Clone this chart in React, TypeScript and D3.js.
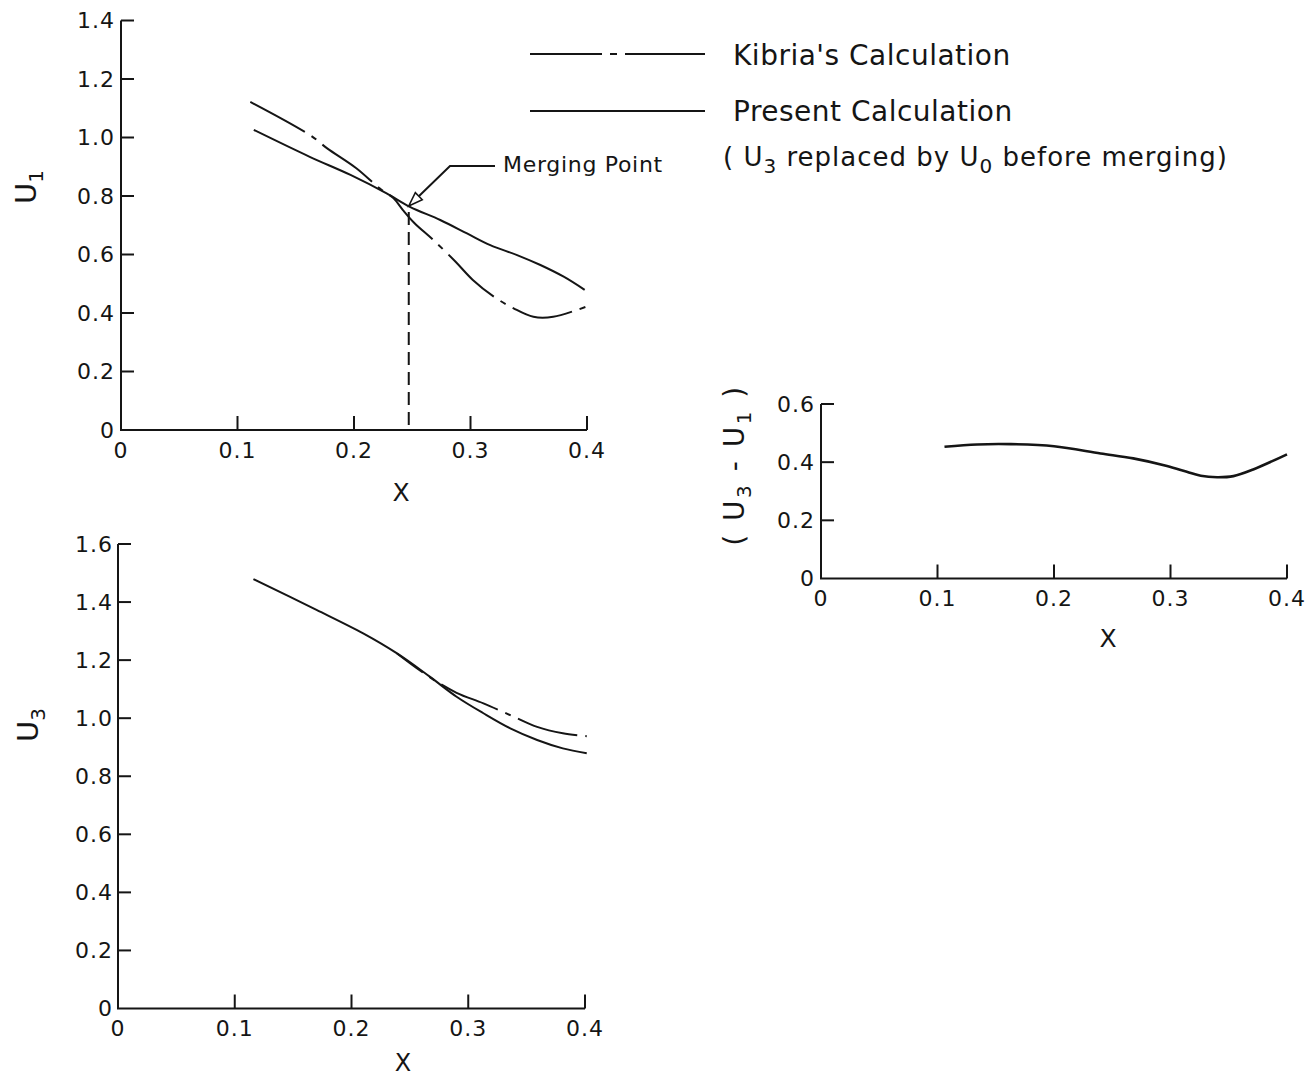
import React from 'react';
import * as d3 from 'd3';

const W = 1311;
const H = 1079;
const INK = '#151515';
const FONT = "'DejaVu Sans', 'Liberation Sans', sans-serif";

// ---- data -------------------------------------------------------------
// U1 against X
const u1KibriaX = [0.111, 0.162, 0.177, 0.202, 0.222, 0.234, 0.242, 0.252, 0.268, 0.287, 0.302, 0.320, 0.337, 0.354, 0.371, 0.401];
const u1KibriaY = [1.122, 1.009, 0.963, 0.895, 0.826, 0.792, 0.752, 0.707, 0.650, 0.576, 0.513, 0.456, 0.416, 0.387, 0.387, 0.424];
const u1PresentX = [0.114, 0.162, 0.197, 0.228, 0.248, 0.274, 0.297, 0.317, 0.340, 0.360, 0.380, 0.398];
const u1PresentY = [1.026, 0.934, 0.872, 0.809, 0.763, 0.718, 0.672, 0.632, 0.598, 0.564, 0.524, 0.479];

// merging point on the U1 curves
const mergeX = 0.247;
const mergeY = 0.766;

// U3 against X
const u3PresentX = [0.116, 0.170, 0.210, 0.239, 0.267, 0.290, 0.313, 0.336, 0.359, 0.381, 0.4015];
const u3PresentY = [1.479, 1.373, 1.292, 1.223, 1.143, 1.074, 1.017, 0.965, 0.925, 0.896, 0.879];
const u3KibriaX = [0.239, 0.267, 0.290, 0.313, 0.339, 0.359, 0.381, 0.4015];
const u3KibriaY = [1.223, 1.141, 1.0875, 1.051, 1.005, 0.970, 0.948, 0.938];

// (U3 - U1) against X
const diffX = [0.106, 0.134, 0.163, 0.200, 0.240, 0.268, 0.297, 0.314, 0.326, 0.340, 0.354, 0.371, 0.400];
const diffY = [0.453, 0.461, 0.462, 0.455, 0.430, 0.413, 0.387, 0.367, 0.353, 0.348, 0.352, 0.375, 0.427];

// tick labels
const xTickLabels = ['0', '0.1', '0.2', '0.3', '0.4'];
const u1TickLabels = ['0', '0.2', '0.4', '0.6', '0.8', '1.0', '1.2', '1.4'];
const u3TickLabels = ['0', '0.2', '0.4', '0.6', '0.8', '1.0', '1.2', '1.4', '1.6'];
const diffTickLabels = ['0', '0.2', '0.4', '0.6'];

// legend entries
const legendKibria = "Kibria's Calculation";
const legendPresent = 'Present Calculation';

// ---- helpers ----------------------------------------------------------
type Scale = d3.ScaleLinear<number, number>;

const zip = (xs: number[], ys: number[]) => xs.map((x, i) => [x, ys[i]] as [number, number]);

function curvePath(x: Scale, y: Scale, xs: number[], ys: number[]) {
  const line = d3
    .line<[number, number]>()
    .x((d) => x(d[0]))
    .y((d) => y(d[1]))
    .curve(d3.curveCatmullRom.alpha(0.5));
  return line(zip(xs, ys)) || '';
}

function Axes({
  x,
  y,
  yLabels,
  labelGap,
}: {
  x: Scale;
  y: Scale;
  yLabels: string[];
  labelGap: number;
}) {
  const [x0, x1] = x.range();
  const [yb, yt] = y.range();
  return (
    <g>
      <path d={`M${x0},${yt}V${yb}H${x1}`} fill="none" stroke={INK} strokeWidth={2} />
      {yLabels.map((t) => {
        const v = parseFloat(t);
        const py = y(v);
        return (
          <g key={'y' + t}>
            {v > 0 && <line x1={x0} x2={x0 + 13} y1={py} y2={py} stroke={INK} strokeWidth={2} />}
            <text
              x={x0 - labelGap}
              y={py}
              dy="0.36em"
              textAnchor="end"
              fontSize={22}
              letterSpacing={1}
              fill={INK}
            >
              {t}
            </text>
          </g>
        );
      })}
      {xTickLabels.map((t) => {
        const v = parseFloat(t);
        const px = x(v);
        return (
          <g key={'x' + t}>
            {v > 0 && <line x1={px} x2={px} y1={yb} y2={yb - 14} stroke={INK} strokeWidth={2} />}
            <text x={px} y={yb + 20} dy="0.36em" textAnchor="middle" fontSize={22} letterSpacing={1} fill={INK}>
              {t}
            </text>
          </g>
        );
      })}
    </g>
  );
}

const KIBRIA_DASH = '62 8 6 8';

export default function App() {
  // panel scales
  const xU1 = d3.scaleLinear().domain([0, 0.4]).range([121, 587]);
  const yU1 = d3.scaleLinear().domain([0, 1.4]).range([430, 20.5]);

  const xU3 = d3.scaleLinear().domain([0, 0.4]).range([118, 585]);
  const yU3 = d3.scaleLinear().domain([0, 1.6]).range([1008.5, 544]);

  const xD = d3.scaleLinear().domain([0, 0.4]).range([821, 1287]);
  const yD = d3.scaleLinear().domain([0, 0.6]).range([578.5, 404]);

  const mx = xU1(mergeX);
  const my = yU1(mergeY);
  // open arrowhead pointing at the merging point
  const ang = Math.atan2(166 - my, 450 - mx);
  const ah = 14;
  const aw = 5;
  const bx = mx + Math.cos(ang) * ah;
  const by = my + Math.sin(ang) * ah;
  const nx = -Math.sin(ang) * aw;
  const ny = Math.cos(ang) * aw;

  return (
    <svg
      width={W}
      height={H}
      viewBox={`0 0 ${W} ${H}`}
      style={{ position: 'absolute', left: 0, top: 0, background: '#fff' }}
      fontFamily={FONT}
    >
      <rect width={W} height={H} fill="#fff" />

      {/* ---- U1 panel ---- */}
      <Axes x={xU1} y={yU1} yLabels={u1TickLabels} labelGap={6} />
      <path d={curvePath(xU1, yU1, u1PresentX, u1PresentY)} fill="none" stroke={INK} strokeWidth={2} />
      <path
        d={curvePath(xU1, yU1, u1KibriaX, u1KibriaY)}
        fill="none"
        stroke={INK}
        strokeWidth={2}
        strokeDasharray={KIBRIA_DASH}
      />
      <line
        x1={xU1(mergeX)}
        x2={xU1(mergeX)}
        y1={yU1(0.745)}
        y2={yU1(0)}
        stroke={INK}
        strokeWidth={2}
        strokeDasharray="13 7"
      />
      <path d={`M${bx},${by}L450,166H495`} fill="none" stroke={INK} strokeWidth={2} />
      <path
        d={`M${mx},${my}L${bx + nx},${by + ny}L${bx - nx},${by - ny}Z`}
        fill="#fff"
        stroke={INK}
        strokeWidth={1.5}
      />
      <text x={503} y={172} fontSize={22} letterSpacing={0.7} fill={INK}>
        Merging Point
      </text>
      <text x={401} y={492} dy="0.36em" textAnchor="middle" fontSize={25} fill={INK}>
        X
      </text>
      <text transform="translate(36,187) rotate(-90)" textAnchor="middle" fontSize={29} fill={INK}>
        U
        <tspan dy={7} fontSize={20}>
          1
        </tspan>
      </text>

      {/* ---- U3 panel ---- */}
      <Axes x={xU3} y={yU3} yLabels={u3TickLabels} labelGap={5} />
      <path d={curvePath(xU3, yU3, u3PresentX, u3PresentY)} fill="none" stroke={INK} strokeWidth={2} />
      <path
        d={curvePath(xU3, yU3, u3KibriaX, u3KibriaY)}
        fill="none"
        stroke={INK}
        strokeWidth={2}
        strokeDasharray={KIBRIA_DASH}
        strokeDashoffset={30}
      />
      <text x={403} y={1062} dy="0.36em" textAnchor="middle" fontSize={24} fill={INK}>
        X
      </text>
      <text transform="translate(38,725) rotate(-90)" textAnchor="middle" fontSize={29} fill={INK}>
        U
        <tspan dy={7} fontSize={20}>
          3
        </tspan>
      </text>

      {/* ---- (U3 - U1) panel ---- */}
      <Axes x={xD} y={yD} yLabels={diffTickLabels} labelGap={6} />
      <path d={curvePath(xD, yD, diffX, diffY)} fill="none" stroke={INK} strokeWidth={2.6} />
      <text x={1108} y={638} dy="0.36em" textAnchor="middle" fontSize={25} fill={INK}>
        X
      </text>
      <text transform="translate(744,465) rotate(-90)" textAnchor="middle" fontSize={28} fill={INK} letterSpacing={2.5}>
        {'( U'}
        <tspan dy={7} fontSize={20}>
          3
        </tspan>
        <tspan dy={-7}>{' - U'}</tspan>
        <tspan dy={7} fontSize={20}>
          1
        </tspan>
        <tspan dy={-7}>{' )'}</tspan>
      </text>

      {/* ---- legend ---- */}
      <line x1={530} x2={705} y1={54} y2={54} stroke={INK} strokeWidth={2} strokeDasharray="72 8 7 8 100" />
      <text x={733} y={65} fontSize={28} fill={INK} letterSpacing={0.5}>
        {legendKibria}
      </text>
      <line x1={530} x2={705} y1={111} y2={111} stroke={INK} strokeWidth={2} />
      <text x={733} y={121} fontSize={28} fill={INK} letterSpacing={0.5}>
        {legendPresent}
      </text>
      <text x={723} y={166} fontSize={26} fill={INK} letterSpacing={1}>
        {'( U'}
        <tspan dy={7} fontSize={20}>
          3
        </tspan>
        <tspan dy={-7}>{' replaced by U'}</tspan>
        <tspan dy={7} fontSize={20}>
          0
        </tspan>
        <tspan dy={-7}>{' before merging)'}</tspan>
      </text>
    </svg>
  );
}
